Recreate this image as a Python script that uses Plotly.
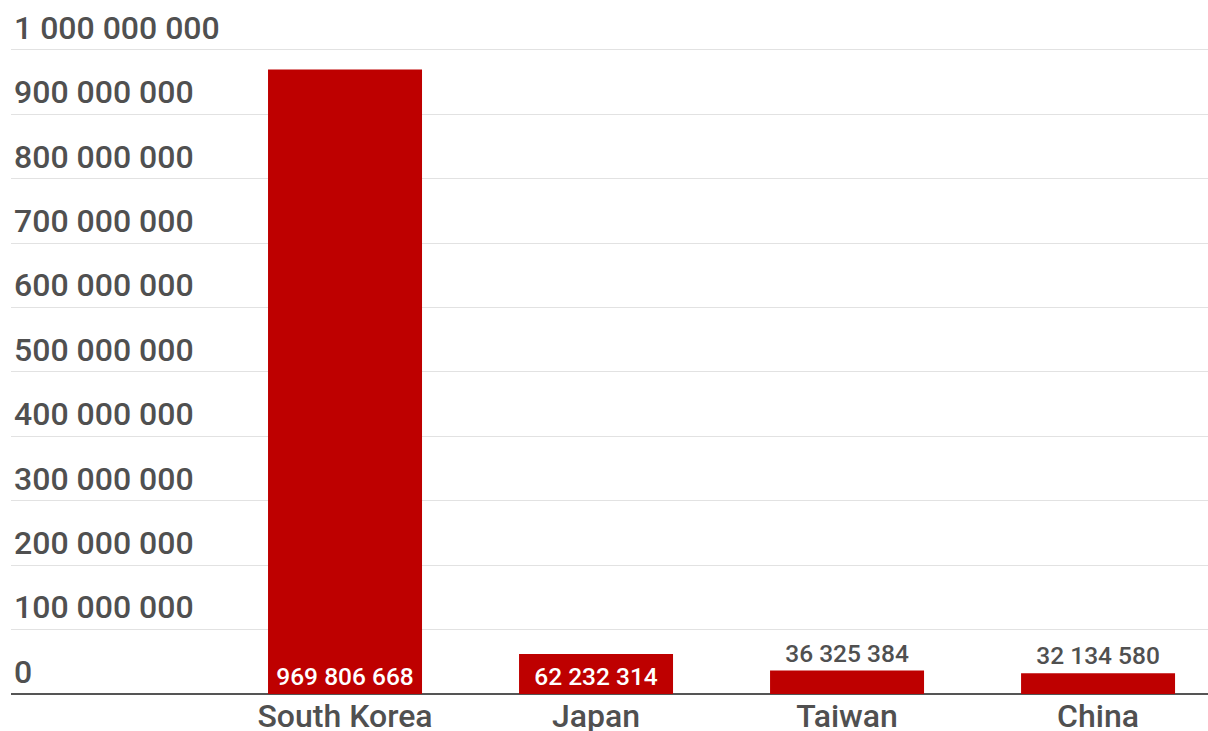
import plotly.graph_objects as go

countries = ["South Korea", "Japan", "Taiwan", "China"]
values = [969806668, 62232314, 36325384, 32134580]
value_labels = ["969 806 668", "62 232 314", "36 325 384", "32 134 580"]
y_tickvals = [0, 100000000, 200000000, 300000000, 400000000, 500000000,
              600000000, 700000000, 800000000, 900000000, 1000000000]
y_ticktext = ["0", "100 000 000", "200 000 000", "300 000 000", "400 000 000",
              "500 000 000", "600 000 000", "700 000 000", "800 000 000",
              "900 000 000", "1 000 000 000"]

xpos = list(range(1, len(countries) + 1))
text_positions = ["inside", "inside", "outside", "outside"]

fig = go.Figure(go.Bar(
    x=xpos, y=values, text=value_labels, textposition=text_positions,
    insidetextanchor="start", textangle=0, constraintext="none",
    outsidetextfont=dict(family="Roboto", size=24.5, color="#505050", weight=500),
    insidetextfont=dict(family="Roboto", size=24.5, color="#ffffff", weight=500),
    marker=dict(color="#be0000", line=dict(width=0)),
    width=0.6135, cliponaxis=False, hoverinfo="skip",
))

fig.update_layout(
    width=1208, height=731,
    margin=dict(l=11, r=0, t=0, b=37),
    paper_bgcolor="white", plot_bgcolor="white",
    showlegend=False,
    font=dict(family="Roboto", color="#505050"),
    xaxis=dict(
        range=[-0.3307, 4.438], tickvals=xpos, ticktext=countries,
        showgrid=False, zeroline=False, showline=False, ticks="",
        tickfont=dict(family="Roboto", size=32, color="#505050", weight=500),
        ticklabelstandoff=0, automargin=False,
    ),
    yaxis=dict(
        range=[0, 1.0776e9], tickvals=y_tickvals, ticktext=y_ticktext,
        ticklabelposition="inside top", showgrid=True, gridcolor="#e2e2e2",
        gridwidth=1, zeroline=True, zerolinecolor="#555555", zerolinewidth=1.5,
        showline=False, ticks="", automargin=False, ticklabelstandoff=0,
        tickfont=dict(family="Roboto", size=32, color="#505050", weight=500),
    ),
)

fig.write_html("out.html", config={"displayModeBar": False},
               post_script="document.body.style.margin='0';document.body.style.overflow='hidden';")
